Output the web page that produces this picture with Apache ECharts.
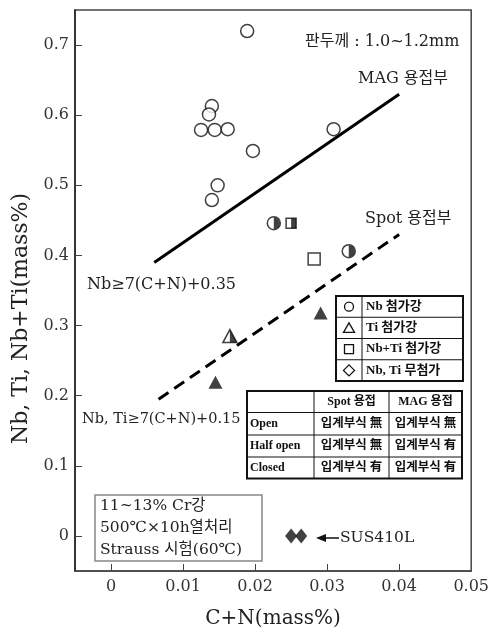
<!DOCTYPE html>
<html><head><meta charset="utf-8">
<script src="https://cdn.jsdelivr.net/npm/echarts@6/dist/echarts.min.js"></script>
<style>html,body{margin:0;padding:0;background:#fff}#c{width:492px;height:634px}</style>
</head><body><div id="c"></div>
<script>
// ---- data ----
const xTicks = [0, 0.01, 0.02, 0.03, 0.04, 0.05];
const yTicks = [0, 0.1, 0.2, 0.3, 0.4, 0.5, 0.6, 0.7];
const nbOpen = [[0.0189,0.720],[0.0140,0.613],[0.0136,0.601],[0.0125,0.579],[0.0144,0.579],[0.0162,0.580],[0.0197,0.549],[0.0309,0.580],[0.0148,0.500],[0.0140,0.479]];
const nbHalf = [[0.0226,0.446],[0.0330,0.406]];
const nbtiHalf = [[0.0250,0.446]];
const nbtiOpen = [[0.0282,0.395]];
const tiHalf = [[0.0165,0.285]];
const tiClosed = [[0.0291,0.318],[0.0145,0.219]];
const susClosed = [[0.0250,0],[0.0264,0]];
const magLine = [[0.0060,0.390],[0.0400,0.630]];
const spotLine = [[0.0066,0.195],[0.0400,0.430]];
const legendLabels = ['Nb 첨가강','Ti 첨가강','Nb+Ti 첨가강','Nb, Ti 무첨가'];
const tableHeader = ['Spot 용접','MAG 용접'];
const tableRows = ['Open','Half open','Closed'];
const tableCells = [['입계부식 無','입계부식 無'],['입계부식 無','입계부식 有'],['입계부식 有','입계부식 有']];
const condLines = ['11~13% Cr강','500℃×10h열처리','Strauss 시험(60℃)'];

const SERIF = '"DejaVu Serif","Noto Sans CJK KR",serif';
const BOLD = '"Liberation Serif","Noto Sans CJK KR",serif';
const halfCircle = 'path://M-1,-1M1,1M0,-1A1,1,0,0,1,0,1Z';
const halfRect = 'path://M-1,-1M1,1M0,-1L1,-1L1,1L0,1Z';
const halfTri = 'path://M-1,-1M1,1M0,-1L1,1L0,1Z';

function txt(text, x, y, size, align, extra) {
  return Object.assign({type:'text', z:50, style:{text:text, x:x, y:y, font: size+'px '+SERIF, fill:'#222',
    align: align||'left', verticalAlign:'middle', textAlign: align||'left', textVerticalAlign:'middle'}}, extra||{});
}
const g = [];
// annotations
g.push(txt('판두께 : 1.0~1.2mm', 305, 42, 16));
g.push(txt('MAG 용접부', 358, 79, 16));
g.push(txt('Spot 용접부', 365, 219, 16));
g.push(txt('Nb≥7(C+N)+0.35', 87, 285, 16));
g.push(txt('Nb, Ti≥7(C+N)+0.15', 82, 419, 14.5));
g.push(txt('SUS410L', 340, 538, 15.5));
g.push({type:'polygon', z:50, shape:{points:[[316,538],[326,534],[326,542]]}, style:{fill:'#111'}});
g.push({type:'line', z:50, shape:{x1:324,y1:538,x2:339,y2:538}, style:{stroke:'#111', lineWidth:1.5}});
// condition box
g.push({type:'rect', z:40, shape:{x:95,y:495,width:167,height:66}, style:{fill:'#fff', stroke:'#888', lineWidth:1.5}});
condLines.forEach((s,i)=>g.push(txt(s, 100, 506+i*22, 15.5)));
// legend box
const LX=336, LY=296, LW=127, RH=21.25, LC=362;
g.push({type:'rect', z:40, shape:{x:LX,y:LY,width:LW,height:RH*4}, style:{fill:'#fff', stroke:'#111', lineWidth:2}});
for (let i=1;i<4;i++) g.push({type:'line', z:41, shape:{x1:LX,y1:LY+RH*i,x2:LX+LW,y2:LY+RH*i}, style:{stroke:'#111',lineWidth:1}});
g.push({type:'line', z:41, shape:{x1:LC,y1:LY,x2:LC,y2:LY+RH*4}, style:{stroke:'#111',lineWidth:1}});
const sc = (LX+LC)/2;
g.push({type:'circle', z:42, shape:{cx:sc, cy:LY+RH*0.5, r:4.5}, style:{fill:'#fff', stroke:'#111', lineWidth:1.3}});
g.push({type:'polygon', z:42, shape:{points:[[sc,LY+RH*1.5-5],[sc+5.5,LY+RH*1.5+4.5],[sc-5.5,LY+RH*1.5+4.5]]}, style:{fill:'#fff', stroke:'#111', lineWidth:1.3}});
g.push({type:'rect', z:42, shape:{x:sc-4.5, y:LY+RH*2.5-4.5, width:9, height:9}, style:{fill:'#fff', stroke:'#111', lineWidth:1.3}});
g.push({type:'polygon', z:42, shape:{points:[[sc,LY+RH*3.5-5.5],[sc+5.5,LY+RH*3.5],[sc,LY+RH*3.5+5.5],[sc-5.5,LY+RH*3.5]]}, style:{fill:'#fff', stroke:'#111', lineWidth:1.3}});
legendLabels.forEach((s,i)=>g.push({type:'text', z:42, style:{text:s, x:LC+4, y:LY+RH*(i+0.5), font:'bold 13px '+BOLD, fill:'#111', align:'left', verticalAlign:'middle', textAlign:'left', textVerticalAlign:'middle'}}));
// table
const TX=[247,314,389,462], TY=[391,412.5,435,457,478.5];
g.push({type:'rect', z:40, shape:{x:TX[0],y:TY[0],width:TX[3]-TX[0],height:TY[4]-TY[0]}, style:{fill:'#fff', stroke:'#111', lineWidth:2}});
for (let i=1;i<4;i++) g.push({type:'line', z:41, shape:{x1:TX[0],y1:TY[i],x2:TX[3],y2:TY[i]}, style:{stroke:'#111',lineWidth:1}});
for (let i=1;i<3;i++) g.push({type:'line', z:41, shape:{x1:TX[i],y1:TY[0],x2:TX[i],y2:TY[4]}, style:{stroke:'#111',lineWidth:1}});
tableHeader.forEach((s,j)=>g.push({type:'text', z:42, style:{text:s, x:(TX[j+1]+TX[j+2])/2, y:(TY[0]+TY[1])/2, font:'bold 12px '+BOLD, fill:'#111', align:'center', verticalAlign:'middle', textAlign:'center', textVerticalAlign:'middle'}}));
tableRows.forEach((s,i)=>{
  const cy=(TY[i+1]+TY[i+2])/2;
  g.push({type:'text', z:42, style:{text:s, x:TX[0]+3, y:cy, font:'bold 12px '+BOLD, fill:'#111', align:'left', verticalAlign:'middle', textAlign:'left', textVerticalAlign:'middle'}});
  tableCells[i].forEach((c,j)=>g.push({type:'text', z:42, style:{text:c, x:(TX[j+1]+TX[j+2])/2, y:cy, font:'bold 12.5px '+BOLD, fill:'#111', align:'center', verticalAlign:'middle', textAlign:'center', textVerticalAlign:'middle'}}));
});

const open = {color:'#fff', borderColor:'#111', borderWidth:1.5};
const solid = {color:'#111', borderWidth:0};
const chart = echarts.init(document.getElementById('c'));
chart.setOption({
  animation:false,
  backgroundColor:'#fff',
  grid:{left:75, right:16, top:10, bottom:62, show:true, borderColor:'#444', borderWidth:1.5},
  xAxis:{type:'value', min:-0.005, max:0.05, splitLine:{show:false},
    name:'C+N(mass%)', nameLocation:'middle', nameGap:38,
    nameTextStyle:{fontFamily:SERIF, fontSize:20, color:'#222'},
    axisLine:{onZero:false, lineStyle:{color:'#444', width:1.5}},
    axisTick:{inside:true, length:7, customValues:xTicks.slice(0,5), lineStyle:{color:'#444'}},
    axisLabel:{customValues:xTicks, margin:8, fontFamily:SERIF, fontSize:16, color:'#333', formatter:v=>String(+v.toFixed(3))}},
  yAxis:{type:'value', min:-0.05, max:0.75, splitLine:{show:false},
    name:'Nb, Ti, Nb+Ti(mass%)', nameLocation:'middle', nameGap:24,
    nameTextStyle:{fontFamily:SERIF, fontSize:22, color:'#222', padding:[0,56,0,0]},
    axisLine:{onZero:false, lineStyle:{color:'#222', width:1.5}},
    axisTick:{inside:true, length:7, customValues:yTicks, lineStyle:{color:'#444'}},
    axisLabel:{customValues:yTicks, margin:6, fontFamily:SERIF, fontSize:16, color:'#333', formatter:v=>String(+v.toFixed(2))}},
  graphic:g,
  series:[
    {type:'line', data:magLine, symbol:'none', lineStyle:{color:'#000', width:3}, z:3},
    {type:'line', data:spotLine, symbol:'none', lineStyle:{color:'#000', width:3, type:[12,7]}, z:3},
    {type:'scatter', data:nbOpen, symbol:'circle', symbolSize:13, itemStyle:open, z:4},
    {type:'scatter', data:nbHalf, symbol:'circle', symbolSize:13, itemStyle:open, z:4},
    {type:'scatter', data:nbHalf, symbol:halfCircle, symbolSize:12, itemStyle:solid, z:5},
    {type:'scatter', data:nbtiHalf, symbol:'rect', symbolSize:10, itemStyle:open, z:4},
    {type:'scatter', data:nbtiHalf, symbol:halfRect, symbolSize:10, itemStyle:solid, z:5},
    {type:'scatter', data:nbtiOpen, symbol:'rect', symbolSize:12, itemStyle:open, z:4},
    {type:'scatter', data:tiHalf, symbol:'triangle', symbolSize:[14,13], itemStyle:open, z:4},
    {type:'scatter', data:tiHalf, symbol:halfTri, symbolSize:[14,13], itemStyle:solid, z:5},
    {type:'scatter', data:tiClosed, symbol:'triangle', symbolSize:[14,13], itemStyle:solid, z:4},
    {type:'scatter', data:susClosed, symbol:'diamond', symbolSize:[12,15], itemStyle:solid, z:4}
  ]
});
</script></body></html>
